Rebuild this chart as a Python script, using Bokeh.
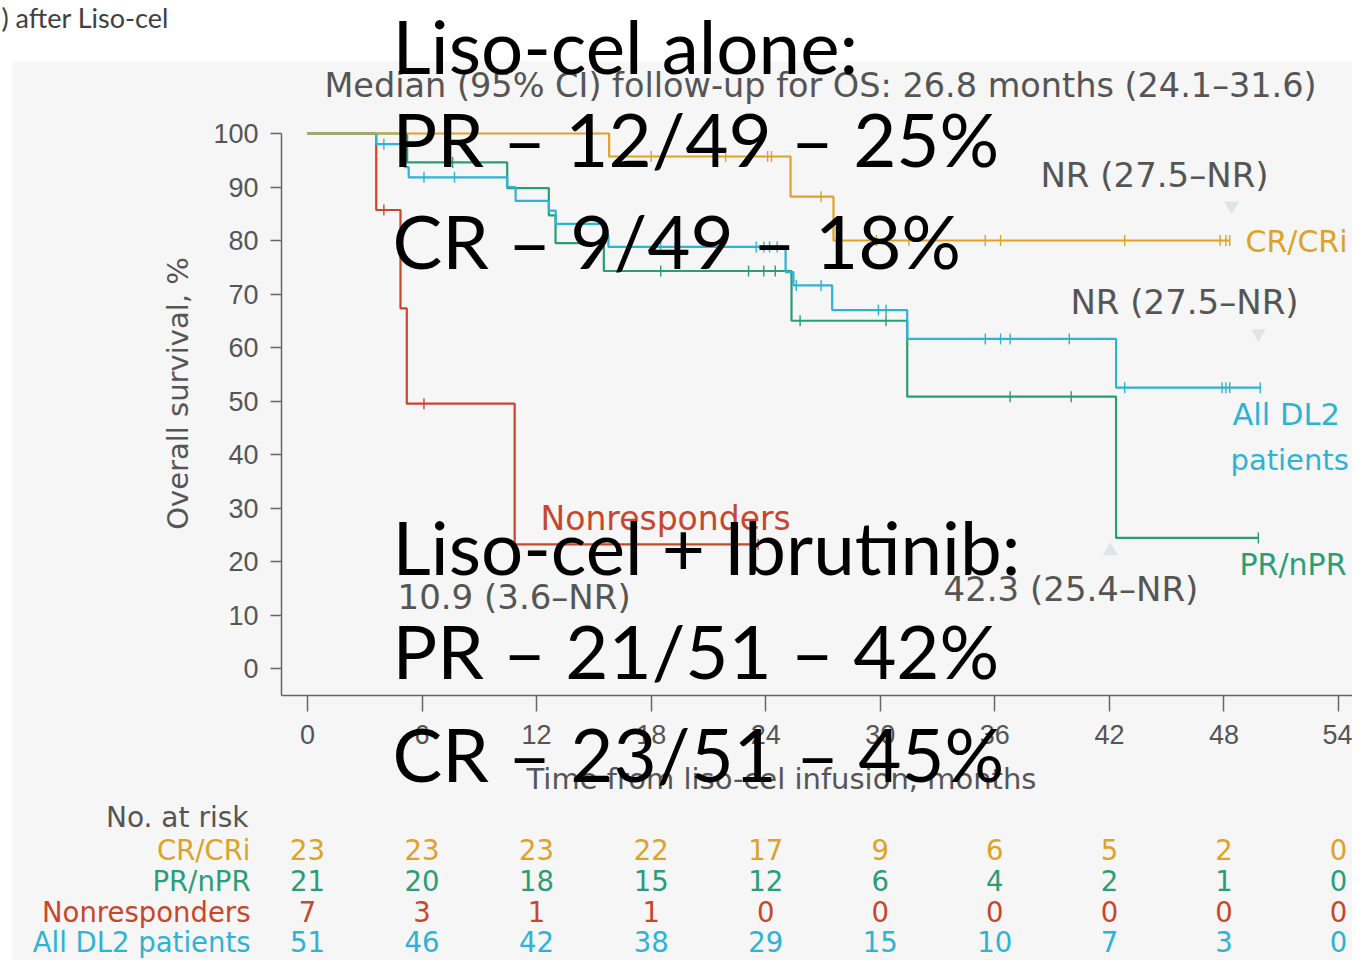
import numpy as np
from bokeh.plotting import figure
from bokeh.models import (Label, LabelSet, ColumnDataSource, BoxAnnotation, FixedTicker,
                          Range1d, LinearAxis)
from bokeh.core.properties import value
from bokeh.embed import file_html
from bokeh.resources import INLINE

# ---------------- data ----------------
# Kaplan-Meier curves: time (months) and overall survival (%)
cr_t = [0, 15.8, 25.3, 27.55, 48.3]
cr_s = [100, 95.7, 88.2, 80.0, 80.0]
cr_cens_t = [18.0, 18.6, 21.9, 24.1, 24.3, 26.9, 29.8, 31.5, 35.5, 36.3, 42.8, 47.8, 48.1, 48.3]
cr_cens_s = [95.7, 95.7, 95.7, 95.7, 95.7, 88.2, 80.0, 80.0, 80.0, 80.0, 80.0, 80.0, 80.0, 80.0]

all_t = [0, 3.6, 5.1, 5.3, 10.46, 10.9, 12.64, 13.0, 15.52, 15.76, 25.04, 25.45, 27.48, 31.41, 42.35, 49.9]
all_s = [100, 98.0, 93.7, 91.8, 90.0, 87.4, 85.6, 83.1, 80.9, 78.8, 74.1, 71.6, 67.0, 61.6, 52.5, 52.5]
all_cens_t = [4.0, 6.1, 7.7, 18.5, 23.5, 23.9, 24.2, 24.6, 25.6, 26.9, 29.9, 30.3, 35.5, 36.3, 36.8,
              39.9, 42.8, 47.9, 48.1, 48.3, 49.9]
all_cens_s = [98.0, 91.8, 91.8, 78.8, 78.8, 78.8, 78.8, 78.8, 71.6, 71.6, 67.0, 67.0, 61.6, 61.6, 61.6,
              61.6, 52.5, 52.5, 52.5, 52.5, 52.5]

pr_t = [0, 5.22, 10.46, 12.64, 12.99, 15.52, 25.35, 31.41, 42.35, 49.8]
pr_s = [100, 94.6, 89.8, 84.7, 79.5, 74.3, 65.0, 50.8, 24.4, 24.4]
pr_cens_t = [7.6, 18.5, 23.1, 23.9, 24.5, 25.8, 30.3, 36.8, 40.0, 49.8]
pr_cens_s = [94.6, 74.3, 74.3, 74.3, 74.3, 65.0, 65.0, 50.8, 50.8, 24.4]

nr_t = [0, 3.6, 4.87, 5.2, 10.85, 23.6]
nr_s = [100, 85.7, 67.3, 49.5, 23.2, 23.2]
nr_cens_t = [4.0, 6.1, 23.6]
nr_cens_s = [85.7, 49.5, 23.2]

# faint median markers
med_down_t = [48.4, 49.8]
med_down_s = [86.5, 62.6]
med_up_t = [42.05]
med_up_s = [22.0]

# number at risk table
risk_times = [0, 6, 12, 18, 24, 30, 36, 42, 48, 54]
risk_cr = [23, 23, 23, 22, 17, 9, 6, 5, 2, 0]
risk_pr = [21, 20, 18, 15, 12, 6, 4, 2, 1, 0]
risk_nr = [7, 3, 1, 1, 0, 0, 0, 0, 0, 0]
risk_all = [51, 46, 42, 38, 29, 15, 10, 7, 3, 0]

x_ticks = [0, 6, 12, 18, 24, 30, 36, 42, 48, 54]
y_ticks = [0, 10, 20, 30, 40, 50, 60, 70, 80, 90, 100]

# ---------------- styling ----------------
ORANGE = "#DDA227"
GREEN = "#2A9D76"
RED = "#C8462C"
CYAN = "#2DB3D5"
GREY = "#555555"
PANEL = "#f6f6f6"

W, H = 1352, 960
PX_PER_MONTH = 19.093
PX_PER_PCT = 5.35
X0, Y0 = 307, 668          # pixel of t=0 and of 0 %


def tx(px):
    return (px - X0) / PX_PER_MONTH


def sy(py):
    return (Y0 - py) / PX_PER_PCT


p = figure(width=W, height=H, output_backend="svg", toolbar_location=None, title=None,
           x_axis_type=None, y_axis_type=None,
           x_range=Range1d(tx(0), tx(W)), y_range=Range1d(sy(H), sy(0)),
           min_border=0, min_border_left=0, min_border_right=0,
           min_border_top=0, min_border_bottom=0)
p.background_fill_color = "white"
p.border_fill_color = "white"
p.outline_line_color = None
p.grid.visible = False

# grey panel of the original figure
p.add_layout(BoxAnnotation(left=12, right=W + 20, top=H - 61, bottom=-20,
                           left_units="screen", right_units="screen", top_units="screen",
                           bottom_units="screen", fill_color=PANEL, fill_alpha=1.0,
                           line_color=None, level="underlay"))

x_axis_y = sy(695)
y_axis_x = tx(281)
xaxis = LinearAxis(fixed_location=x_axis_y, bounds=(y_axis_x, tx(W)),
                   ticker=FixedTicker(ticks=x_ticks))
yaxis = LinearAxis(fixed_location=y_axis_x, bounds=(x_axis_y, 100),
                   ticker=FixedTicker(ticks=y_ticks))
p.add_layout(xaxis, "below")
p.add_layout(yaxis, "left")

for ax in (xaxis, yaxis):
    ax.axis_line_color = "#666666"
    ax.axis_line_width = 1.5
    ax.major_tick_line_color = "#666666"
    ax.major_tick_line_width = 1.5
    ax.major_tick_in = 0
    ax.minor_tick_line_color = None
    ax.major_label_text_font = "Liberation Sans"
    ax.major_label_text_font_size = "27px"
    ax.major_label_text_color = GREY

xaxis.major_tick_out = 16
yaxis.major_tick_out = 11
xaxis.major_label_standoff = 13
yaxis.major_label_standoff = 12

# curves
curves = [(nr_t, nr_s, nr_cens_t, nr_cens_s, RED),
          (pr_t, pr_s, pr_cens_t, pr_cens_s, GREEN),
          (all_t, all_s, all_cens_t, all_cens_s, CYAN),
          (cr_t, cr_s, cr_cens_t, cr_cens_s, ORANGE)]
for t, s, ct, cs, col in curves:
    p.step(t, s, mode="after", line_color=col, line_width=2.2)
    p.scatter(ct, cs, marker="dash", angle=np.pi / 2, size=11, line_color=col, line_width=1.4)

p.scatter(med_down_t, med_down_s, marker="inverted_triangle", size=15,
          fill_color="#dfe4e5", line_color=None)
p.scatter(med_up_t, med_up_s, marker="triangle", size=15, fill_color="#dfe4e5", line_color=None)


def lab(text, px, py, size, color, font="DejaVu Sans", align="left", baseline="middle", angle=0.0):
    p.add_layout(Label(x=px, y=H - py, x_units="screen", y_units="screen",
                       text=text, text_font=font, text_font_size=f"{size}px", text_color=color,
                       text_align=align, text_baseline=baseline, angle=angle))


# axis titles
lab("Overall survival, %", 177, 393, 29, GREY, align="center", angle=np.pi / 2)
lab("Time from liso-cel infusion, months", 781, 778, 29, GREY, align="center")

# figure annotations
lab("Median (95% CI) follow-up for OS: 26.8 months (24.1\u201331.6)", 820, 85, 33.5, GREY, align="center")
lab("NR (27.5\u2013NR)", 1154, 174, 34, GREY, align="center")
lab("NR (27.5\u2013NR)", 1184, 301, 34, GREY, align="center")
lab("10.9 (3.6\u2013NR)", 397, 596, 34, GREY)
lab("42.3 (25.4\u2013NR)", 943, 588, 34, GREY)
lab("Nonresponders", 540, 518, 33, RED)
lab("CR/CRi", 1245, 241, 30, ORANGE)
lab("All DL2", 1232, 414, 30.5, CYAN)
lab("patients", 1230, 459, 29, CYAN)
lab("PR/nPR", 1239, 564, 30, GREEN)

# number at risk table
lab("No. at risk", 248, 817, 28, GREY, align="right")
rows = [("CR/CRi", risk_cr, ORANGE, 849), ("PR/nPR", risk_pr, GREEN, 880),
        ("Nonresponders", risk_nr, RED, 911), ("All DL2 patients", risk_all, CYAN, 941)]
for name, vals, col, py in rows:
    lab(name, 250, py, 27.5, col, align="right")
    src = ColumnDataSource(dict(t=risk_times, txt=[str(v) for v in vals]))
    p.add_layout(LabelSet(x="t", y=H - py, y_units="screen", text="txt", source=src,
                          text_align="center", text_baseline="middle",
                          text_font=value("DejaVu Sans"), text_font_size=value("27.5px"),
                          text_color=col))

# slide texts on top
lab(") after Liso-cel", 1, 17, 27, "#404040", font="Lato")
BASE_SHIFT = 31
big = [("Liso-cel alone:", 75), ("PR \u2013 12/49 \u2013 25%", 168), ("CR \u2013 9/49 \u2013 18%", 270),
       ("Liso-cel + Ibrutinib:", 576), ("PR \u2013 21/51 \u2013 42%", 680), ("CR \u2013 23/51 \u2013 45%", 783)]
for txt, py in big:
    lab(txt, 392, py - BASE_SHIFT, 74.5, "black", font="Lato", baseline="alphabetic")

open("out.html", "w").write(file_html(p, INLINE))
